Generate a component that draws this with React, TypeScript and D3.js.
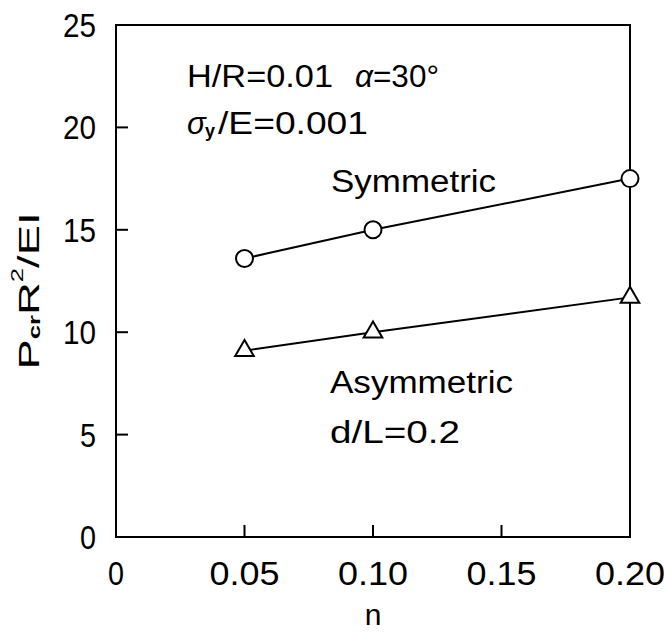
import * as d3 from "d3";

const nValues = [0.05, 0.1, 0.2];
const symmetric = [13.6, 15.0, 17.5];
const asymmetric = [9.1, 10.0, 11.7];
const xTicks = [0, 0.05, 0.1, 0.15, 0.2];
const xTickLabels = ["0", "0.05", "0.10", "0.15", "0.20"];
const yTicks = [0, 5, 10, 15, 20, 25];

const FONT = "'Liberation Sans', Arial, sans-serif";

const Chart = () => {
  const width = 664;
  const height = 635;
  const margin = { top: 25, right: 34, bottom: 98, left: 116 };
  const innerW = width - margin.left - margin.right;
  const innerH = height - margin.top - margin.bottom;

  const x = d3.scaleLinear().domain([0, 0.2]).range([0, innerW]);
  const y = d3.scaleLinear().domain([0, 25]).range([innerH, 0]);

  const line = d3
    .line<number>()
    .x((_, i) => x(nValues[i]))
    .y((d) => y(d));

  const tri = d3.symbol(d3.symbolTriangle, 150);

  return (
    <svg width={width} height={height} style={{ display: "block", background: "#fff" }}>
      <g transform={`translate(${margin.left},${margin.top})`}>
        {/* frame */}
        <rect x={0} y={0} width={innerW} height={innerH} fill="none" stroke="#000" strokeWidth={2} />

        {/* y ticks */}
        {yTicks.map((t) => (
          <g key={t}>
            {t > 0 && t < 25 && (
              <line x1={0} x2={12} y1={y(t)} y2={y(t)} stroke="#000" strokeWidth={2} />
            )}
            <text
              x={-20}
              y={y(t)}
              textAnchor="end"
              dominantBaseline="central"
              fontSize={34}
              fontFamily={FONT}
              textLength={t >= 10 ? 33 : 16}
              lengthAdjust="spacingAndGlyphs"
              fill="#000"
            >
              {t}
            </text>
          </g>
        ))}

        {/* x ticks */}
        {xTicks.map((t, i) => (
          <g key={t}>
            {i > 0 && i < xTicks.length - 1 && (
              <line x1={x(t)} x2={x(t)} y1={innerH} y2={innerH - 12} stroke="#000" strokeWidth={2} />
            )}
            <text
              x={x(t)}
              y={innerH + 36}
              textAnchor="middle"
              dominantBaseline="central"
              fontSize={34}
              fontFamily={FONT}
              textLength={i === 0 ? 16 : 70}
              lengthAdjust="spacingAndGlyphs"
              fill="#000"
            >
              {xTickLabels[i]}
            </text>
          </g>
        ))}

        {/* series lines */}
        <path d={line(symmetric) ?? ""} fill="none" stroke="#000" strokeWidth={2} />
        <path d={line(asymmetric) ?? ""} fill="none" stroke="#000" strokeWidth={2} />

        {symmetric.map((v, i) => (
          <circle key={i} cx={x(nValues[i])} cy={y(v)} r={8.5} fill="#fff" stroke="#000" strokeWidth={2} />
        ))}
        {asymmetric.map((v, i) => (
          <path
            key={i}
            d={tri() ?? ""}
            transform={`translate(${x(nValues[i])},${y(v)})`}
            fill="#fff"
            stroke="#000"
            strokeWidth={2}
          />
        ))}
      </g>

      {/* annotations */}
      <g fontFamily={FONT} fontSize={31} fill="#000">
        <text x={187} y={76} dominantBaseline="central" textLength={146} lengthAdjust="spacingAndGlyphs">
          H/R=0.01
        </text>
        <text x={355} y={76} dominantBaseline="central" textLength={84} lengthAdjust="spacingAndGlyphs">
          <tspan fontStyle="italic">α</tspan>=30°
        </text>
        <text x={187} y={123} dominantBaseline="central" fontStyle="italic">
          σ
        </text>
        <text x={205} y={131} dominantBaseline="central" fontSize={18} fontWeight="bold">
          y
        </text>
        <text x={218} y={123} dominantBaseline="central" textLength={150} lengthAdjust="spacingAndGlyphs">
          /E=0.001
        </text>
        <text x={331} y={181} dominantBaseline="central" textLength={165} lengthAdjust="spacingAndGlyphs">
          Symmetric
        </text>
        <text x={330} y={382} dominantBaseline="central" textLength={183} lengthAdjust="spacingAndGlyphs">
          Asymmetric
        </text>
        <text x={330} y={432} dominantBaseline="central" textLength={130} lengthAdjust="spacingAndGlyphs">
          d/L=0.2
        </text>
      </g>

      {/* axis titles */}
      <text
        transform={`translate(28,291) rotate(-90)`}
        textAnchor="middle"
        dominantBaseline="central"
        fontSize={30}
        fontFamily={FONT}
        fill="#000"
        textLength={157}
        lengthAdjust="spacingAndGlyphs"
      >
        P<tspan fontSize={17} fontWeight="bold" dy={6}>cr</tspan>
        <tspan dy={-6}>R</tspan>
        <tspan fontSize={17} dy={-11}>2</tspan>
        <tspan dy={11}>/EI</tspan>
      </text>
      <text
        x={margin.left + x(0.1)}
        y={614}
        textAnchor="middle"
        dominantBaseline="central"
        fontSize={30}
        fontFamily={FONT}
        fill="#000"
      >
        n
      </text>
    </svg>
  );
};

export default function App() {
  return (
    <div style={{ position: "absolute", left: 0, top: 0 }}>
      <Chart />
    </div>
  );
}
